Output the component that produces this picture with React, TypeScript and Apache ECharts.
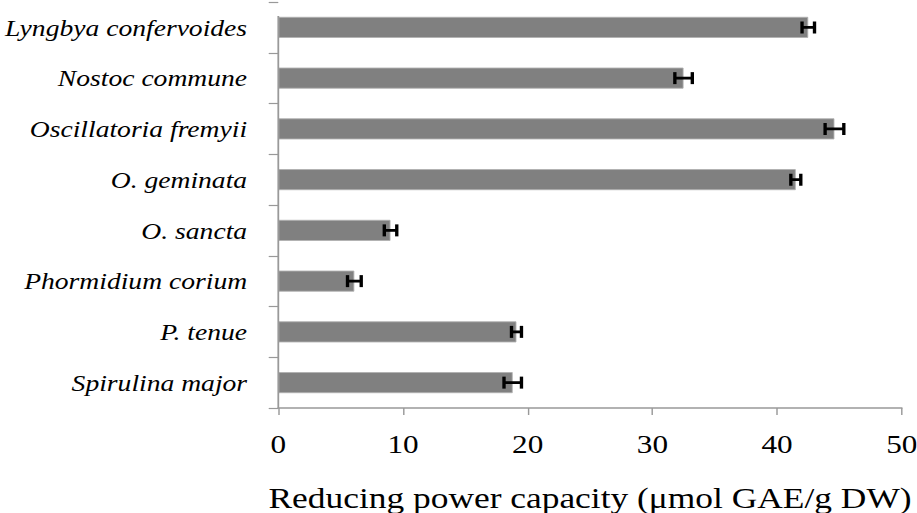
import React, { useEffect, useRef } from "react";
import * as echarts from "echarts";

const categories = [
  "Lyngbya confervoides",
  "Nostoc commune",
  "Oscillatoria fremyii",
  "O. geminata",
  "O. sancta",
  "Phormidium corium",
  "P. tenue",
  "Spirulina major",
];
const values = [42.5, 32.5, 44.6, 41.5, 9.0, 6.1, 19.1, 18.8];
const errors = [0.5, 0.7, 0.75, 0.4, 0.5, 0.55, 0.4, 0.7];
const xTicks = [0, 10, 20, 30, 40, 50];
const xTitle = "Reducing power capacity (\u03bcmol GAE/g DW)";

const STRETCH = 1.2;
const W = 917 / STRETCH;
const H = 513;
const AXIS_X = 278.3 / STRETCH;
const AXIS_END = 902 / STRETCH;
const FONT = "'Liberation Serif', 'Times New Roman', Times, serif";

export default function App() {
  const ref = useRef<HTMLDivElement>(null);
  useEffect(() => {
    document.body.style.margin = "0";
    document.documentElement.style.overflow = "hidden";
    document.body.style.overflow = "hidden";
    const chart = echarts.init(ref.current!, null, { renderer: "svg" });
    const errData = values.map((v, i) => [i, v - errors[i], v + errors[i]]);
    const axisColor = "#999999";
    chart.setOption({
      animation: false,
      grid: {
        left: AXIS_X,
        right: W - AXIS_END,
        top: 2,
        bottom: H - 408,
        containLabel: false,
        outerBoundsMode: "none",
      },
      xAxis: {
        type: "value",
        min: xTicks[0],
        max: xTicks[xTicks.length - 1],
        interval: xTicks[1] - xTicks[0],
        axisLine: { show: true, lineStyle: { color: axisColor, width: 1.5 } },
        axisTick: { show: true, length: 7, lineStyle: { color: axisColor, width: 1.2 } },
        splitLine: { show: false },
        axisLabel: { fontFamily: FONT, fontSize: 26, color: "#000", margin: 23 },
        name: xTitle,
        nameLocation: "middle",
        nameGap: 75,
        nameTextStyle: { fontFamily: FONT, fontSize: 29.5, color: "#000" },
      },
      yAxis: {
        type: "category",
        data: categories,
        inverse: true,
        axisLine: { show: false },
        axisTick: { show: true, length: 8, lineStyle: { color: axisColor, width: 1.2 } },
        axisLabel: {
          fontFamily: FONT,
          fontStyle: "italic",
          fontSize: 23,
          color: "#000",
          margin: 26,
        },
      },
      graphic: [
        {
          type: "line",
          shape: { x1: AXIS_X, y1: 16, x2: AXIS_X, y2: 408 },
          style: { stroke: axisColor, lineWidth: 1.5 },
          z: 10,
        },
      ],
      series: [
        {
          type: "bar",
          data: values,
          barWidth: 21,
          itemStyle: { color: "#808080", borderColor: "#b0b0b0", borderWidth: 0.8 },
        },
        {
          type: "custom",
          data: errData,
          encode: { x: [1, 2], y: 0 },
          z: 5,
          renderItem: (params: any, api: any) => {
            const idx = api.value(0);
            const lo = api.coord([api.value(1), idx]);
            const hi = api.coord([api.value(2), idx]);
            const h = 6;
            const style = { stroke: "#000", lineWidth: 2.8 };
            return {
              type: "group",
              children: [
                { type: "line", shape: { x1: lo[0], y1: lo[1], x2: hi[0], y2: hi[1] }, style },
                { type: "line", shape: { x1: lo[0], y1: lo[1] - h, x2: lo[0], y2: lo[1] + h }, style },
                { type: "line", shape: { x1: hi[0], y1: hi[1] - h, x2: hi[0], y2: hi[1] + h }, style },
              ],
            };
          },
        },
      ],
    });
    return () => chart.dispose();
  }, []);
  return (
    <div
      style={{
        position: "fixed",
        left: 0,
        top: 0,
        width: 917,
        height: H,
        overflow: "hidden",
        background: "#fff",
      }}
    >
      <div
        ref={ref}
        style={{
          width: W,
          height: H,
          overflow: "hidden",
          transform: `scaleX(${STRETCH})`,
          transformOrigin: "0 0",
        }}
      />
    </div>
  );
}
